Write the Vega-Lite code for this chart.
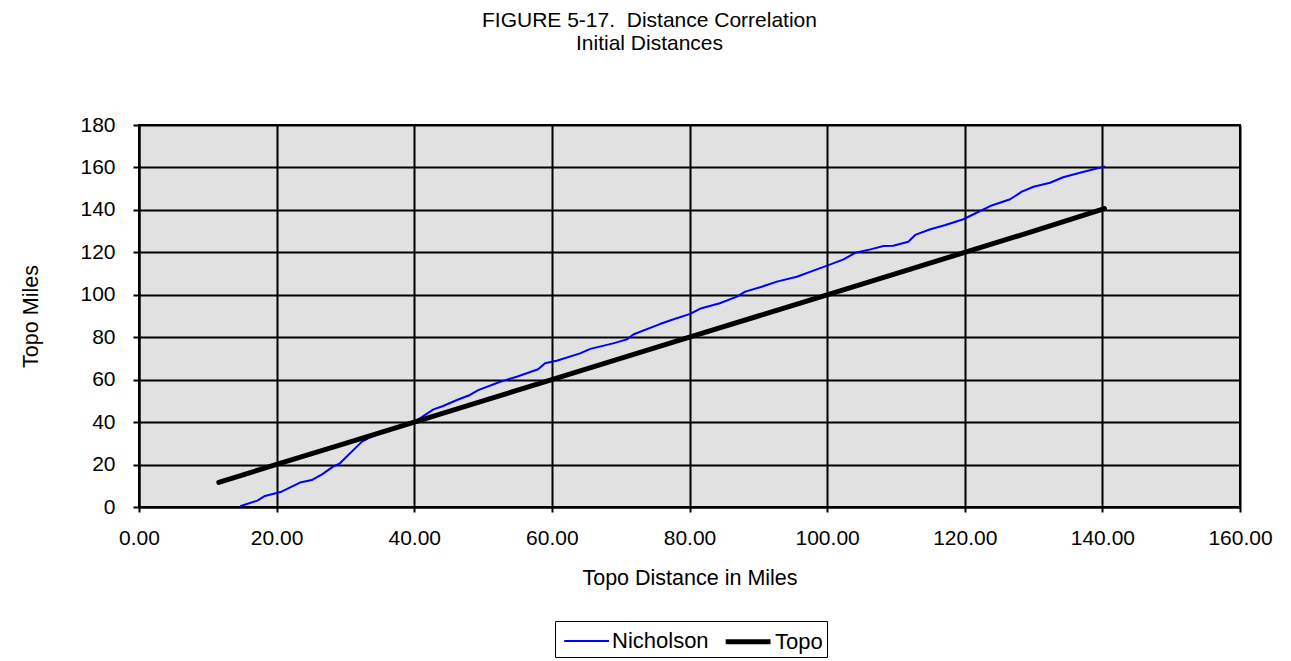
{
  "$schema": "https://vega.github.io/schema/vega-lite/v6.json",
  "width": 1101,
  "height": 382,
  "autosize": {"type": "none"},
  "padding": {"left": 139, "top": 125, "right": 51, "bottom": 154},
  "background": "white",
  "title": {
    "text": ["FIGURE 5-17.\u00a0 Distance Correlation", "Initial Distances"],
    "font": "Liberation Sans",
    "fontSize": 21,
    "fontWeight": "normal",
    "color": "black",
    "anchor": "middle",
    "dx": -40,
    "lineHeight": 23,
    "offset": 60
  },
  "data": {
    "values": [
      {"series": "Nicholson", "x": 14.8, "y": 0.5},
      {"series": "Nicholson", "x": 17.2, "y": 3.0},
      {"series": "Nicholson", "x": 18.3, "y": 5.2},
      {"series": "Nicholson", "x": 20.7, "y": 7.2},
      {"series": "Nicholson", "x": 23.4, "y": 11.5},
      {"series": "Nicholson", "x": 25.1, "y": 12.7},
      {"series": "Nicholson", "x": 26.6, "y": 15.4},
      {"series": "Nicholson", "x": 28.2, "y": 19.0},
      {"series": "Nicholson", "x": 29.2, "y": 20.6},
      {"series": "Nicholson", "x": 32.4, "y": 30.8},
      {"series": "Nicholson", "x": 33.6, "y": 32.8},
      {"series": "Nicholson", "x": 36.0, "y": 36.2},
      {"series": "Nicholson", "x": 38.0, "y": 38.2},
      {"series": "Nicholson", "x": 40.1, "y": 40.2},
      {"series": "Nicholson", "x": 42.8, "y": 46.0},
      {"series": "Nicholson", "x": 44.2, "y": 47.6},
      {"series": "Nicholson", "x": 46.2, "y": 50.4},
      {"series": "Nicholson", "x": 48.1, "y": 52.8},
      {"series": "Nicholson", "x": 49.3, "y": 55.1},
      {"series": "Nicholson", "x": 52.5, "y": 59.0},
      {"series": "Nicholson", "x": 54.9, "y": 61.4},
      {"series": "Nicholson", "x": 58.0, "y": 64.9},
      {"series": "Nicholson", "x": 59.0, "y": 67.7},
      {"series": "Nicholson", "x": 60.7, "y": 68.9},
      {"series": "Nicholson", "x": 64.1, "y": 72.4},
      {"series": "Nicholson", "x": 65.6, "y": 74.5},
      {"series": "Nicholson", "x": 68.9, "y": 77.1},
      {"series": "Nicholson", "x": 70.9, "y": 79.0},
      {"series": "Nicholson", "x": 71.9, "y": 81.4},
      {"series": "Nicholson", "x": 75.7, "y": 86.2},
      {"series": "Nicholson", "x": 77.7, "y": 88.5},
      {"series": "Nicholson", "x": 80.1, "y": 91.0},
      {"series": "Nicholson", "x": 81.5, "y": 93.4},
      {"series": "Nicholson", "x": 84.4, "y": 96.0},
      {"series": "Nicholson", "x": 86.9, "y": 99.1},
      {"series": "Nicholson", "x": 88.1, "y": 101.5},
      {"series": "Nicholson", "x": 90.5, "y": 103.8},
      {"series": "Nicholson", "x": 92.7, "y": 106.2},
      {"series": "Nicholson", "x": 95.6, "y": 108.5},
      {"series": "Nicholson", "x": 98.0, "y": 111.4},
      {"series": "Nicholson", "x": 100.2, "y": 114.0},
      {"series": "Nicholson", "x": 102.4, "y": 116.7},
      {"series": "Nicholson", "x": 104.1, "y": 119.8},
      {"series": "Nicholson", "x": 106.3, "y": 121.4},
      {"series": "Nicholson", "x": 108.2, "y": 123.0},
      {"series": "Nicholson", "x": 109.6, "y": 123.1},
      {"series": "Nicholson", "x": 111.8, "y": 125.0},
      {"series": "Nicholson", "x": 112.8, "y": 128.2},
      {"series": "Nicholson", "x": 115.0, "y": 130.9},
      {"series": "Nicholson", "x": 117.2, "y": 132.9},
      {"series": "Nicholson", "x": 119.8, "y": 135.6},
      {"series": "Nicholson", "x": 121.5, "y": 138.3},
      {"series": "Nicholson", "x": 123.7, "y": 141.8},
      {"series": "Nicholson", "x": 126.6, "y": 145.0},
      {"series": "Nicholson", "x": 128.3, "y": 148.6},
      {"series": "Nicholson", "x": 130.0, "y": 150.9},
      {"series": "Nicholson", "x": 132.4, "y": 152.8},
      {"series": "Nicholson", "x": 134.3, "y": 155.4},
      {"series": "Nicholson", "x": 137.3, "y": 158.0},
      {"series": "Nicholson", "x": 140.3, "y": 160.4},
      {"series": "Topo", "x": 11.6, "y": 11.6},
      {"series": "Topo", "x": 20.0, "y": 20.1},
      {"series": "Topo", "x": 30.0, "y": 30.0},
      {"series": "Topo", "x": 40.0, "y": 40.0},
      {"series": "Topo", "x": 50.0, "y": 50.0},
      {"series": "Topo", "x": 60.0, "y": 60.0},
      {"series": "Topo", "x": 70.0, "y": 70.0},
      {"series": "Topo", "x": 80.0, "y": 80.0},
      {"series": "Topo", "x": 90.0, "y": 90.0},
      {"series": "Topo", "x": 100.0, "y": 100.0},
      {"series": "Topo", "x": 110.0, "y": 110.0},
      {"series": "Topo", "x": 120.0, "y": 120.0},
      {"series": "Topo", "x": 130.0, "y": 130.0},
      {"series": "Topo", "x": 140.3, "y": 140.6}
    ]
  },
  "mark": {"type": "line", "strokeCap": "round", "strokeJoin": "round"},
  "encoding": {
    "x": {
      "field": "x",
      "type": "quantitative",
      "scale": {"domain": [0, 160], "nice": false, "zero": false},
      "axis": {
        "title": "Topo Distance in Miles",
        "values": [0, 20, 40, 60, 80, 100, 120, 140, 160],
        "format": ".2f",
        "labelFlush": false,
        "labelPadding": 15,
        "titlePadding": 19,
        "tickSize": 5
      }
    },
    "y": {
      "field": "y",
      "type": "quantitative",
      "scale": {"domain": [0, 180], "nice": false, "zero": false},
      "axis": {
        "title": "Topo Miles",
        "values": [0, 20, 40, 60, 80, 100, 120, 140, 160, 180],
        "labelFlush": false,
        "labelPadding": 18,
        "titlePadding": 37,
        "tickSize": 6
      }
    },
    "color": {
      "field": "series",
      "type": "nominal",
      "scale": {"domain": ["Nicholson", "Topo"], "range": ["#0000FF", "#000000"]},
      "legend": {
        "title": null,
        "orient": "none",
        "legendX": 416,
        "legendY": 496,
        "direction": "horizontal",
        "symbolType": "M-0.7,0H2.5",
        "symbolSize": 784,
        "symbolFillColor": "transparent",
        "strokeColor": "black",
        "padding": 4,
        "labelFont": "Liberation Sans",
        "labelFontSize": 22,
        "labelColor": "black",
        "labelOffset": 23,
        "columnPadding": 6
      }
    },
    "strokeWidth": {
      "field": "series",
      "type": "nominal",
      "scale": {"domain": ["Nicholson", "Topo"], "range": [2, 5]},
      "legend": null
    }
  },
  "config": {
    "view": {"fill": "#E1E1E1", "stroke": "black", "strokeWidth": 2},
    "axis": {
      "labelFont": "Liberation Sans",
      "labelFontSize": 21,
      "labelColor": "black",
      "titleFont": "Liberation Sans",
      "titleFontSize": 21.5,
      "titleFontWeight": "normal",
      "titleColor": "black",
      "domainColor": "black",
      "domainWidth": 2,
      "tickColor": "black",
      "tickWidth": 2,
      "gridColor": "black",
      "gridWidth": 2,
      "gridOpacity": 1,
      "grid": true
    }
  }
}
